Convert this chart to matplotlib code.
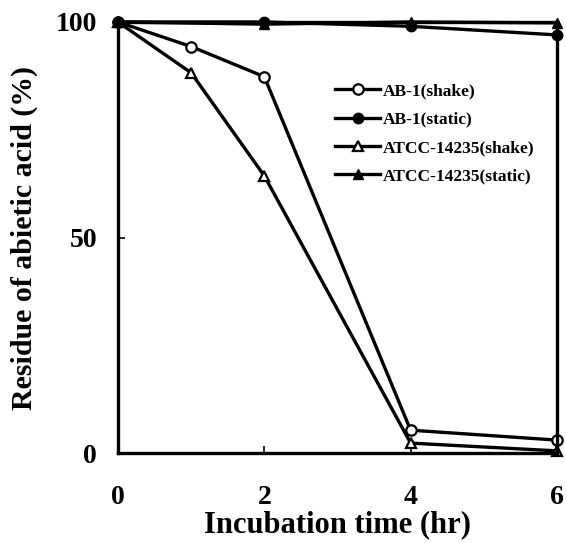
import matplotlib
matplotlib.use("Agg")
import matplotlib.pyplot as plt

# incubation time (hr)
time_ab_shake = [0, 1, 2, 4, 6]
ab_shake = [100, 94.3, 87.3, 5.3, 3.0]

time_ab_static = [0, 2, 4, 6]
ab_static = [100, 100, 99.0, 97.0]

time_atcc_shake = [0, 1, 2, 4, 6]
atcc_shake = [100, 88.2, 64.3, 2.3, 0.5]

time_atcc_static = [0, 2, 4, 6]
atcc_static = [100, 99.5, 100, 99.8]

plt.rcParams["font.family"] = ["Liberation Serif", "DejaVu Serif"]
plt.rcParams["font.weight"] = "bold"

fig = plt.figure(figsize=(5.66, 5.43), dpi=100)
ax = fig.add_axes([0.2085, 0.1657, 0.7755, 0.7938])

lw = 2.4
ms = 7.5
ax.plot(time_ab_shake, ab_shake, color="black", lw=lw, marker="o", ms=ms,
        mfc="white", mec="black", mew=1.6, label="AB-1(shake)", clip_on=False)
ax.plot(time_ab_static, ab_static, color="black", lw=lw, marker="o", ms=ms,
        mfc="black", mec="black", label="AB-1(static)", clip_on=False)
ax.plot(time_atcc_shake, atcc_shake, color="black", lw=lw, marker="^", ms=ms,
        mfc="white", mec="black", mew=1.6, label="ATCC-14235(shake)", clip_on=False)
ax.plot(time_atcc_static, atcc_static, color="black", lw=lw, marker="^", ms=ms,
        mfc="black", mec="black", label="ATCC-14235(static)", clip_on=False)

ax.set_xlim(0, 6)
ax.set_ylim(0, 100)
ax.set_xticks([0, 2, 4, 6])
ax.set_yticks([0, 50, 100])
ax.tick_params(axis="x", direction="in", length=5, width=1.2, pad=23, labelsize=20)
ax.tick_params(axis="y", direction="in", length=5, width=1.2, pad=15, labelsize=20)
for s in ax.spines.values():
    s.set_linewidth(2.4)

ax.set_xlabel("Incubation time (hr)", fontsize=22, fontweight="bold", labelpad=0)
ax.set_ylabel("Residue of abietic acid (%)", fontsize=21.5, fontweight="bold", labelpad=13)

leg = ax.legend(loc="upper left", bbox_to_anchor=(0.475, 0.878), frameon=False,
                prop={"family": "Liberation Serif", "weight": "bold", "size": 12.5},
                handlelength=2.6, handletextpad=0.15, labelspacing=0.7, borderpad=0)

fig.savefig("out.png", dpi=100)
